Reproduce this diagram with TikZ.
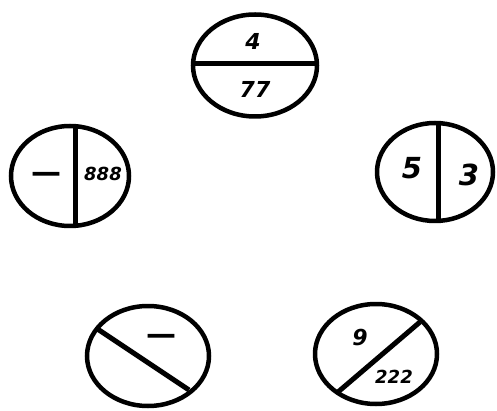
\documentclass[tikz,border=0pt]{standalone}
\usepackage{fontspec}
\setmainfont{DejaVu Sans}
\begin{document}
\begin{tikzpicture}[x=1pt,y=-1pt,
  ring/.style={line width=4.5pt,draw=black},
  cut/.style={line width=5pt,draw=black},
  big/.style={font=\fontsize{29}{29}\selectfont\bfseries\itshape},
  dashtext/.style={font=\fontsize{30}{30}\selectfont\bfseries},
  mid/.style={font=\fontsize{22}{22}\selectfont\bfseries\itshape},
  small/.style={font=\fontsize{18}{18}\selectfont\bfseries\itshape}]
\useasboundingbox (0,0) rectangle (497,411);
% top
\draw[ring] (255,65.5) ellipse [x radius=62, y radius=51];
\draw[cut] (193,64) -- (317,64);
\node[mid] (t1) at (253,41) {4};
\node[mid] (t2) at (255,89) {77};
% left
\draw[ring] (70,176) ellipse [x radius=59, y radius=50];
\draw[cut] (75,126) -- (75,226);
\node[dashtext] (l1) at (46,177) {—};
\node[small] (l2) at (103,174) {888};
% right
\draw[ring] (435,172) ellipse [x radius=58, y radius=49];
\draw[cut] (438,123) -- (438,221);
\node[big] (r1) at (412,168) {5};
\node[big] (r2) at (469,175) {3};
% bottom left
\draw[ring] (148,356) ellipse [x radius=61, y radius=50];
\draw[cut] (96,328) -- (189,390);
\node[dashtext] (b1) at (161,339) {—};
% bottom right
\draw[ring] (376,354) ellipse [x radius=61, y radius=50];
\draw[cut] (338,392) -- (420,322);
\node[mid] (c1) at (360,338) {9};
\node[small] (c2) at (394,377) {222};
\end{tikzpicture}
\end{document}
